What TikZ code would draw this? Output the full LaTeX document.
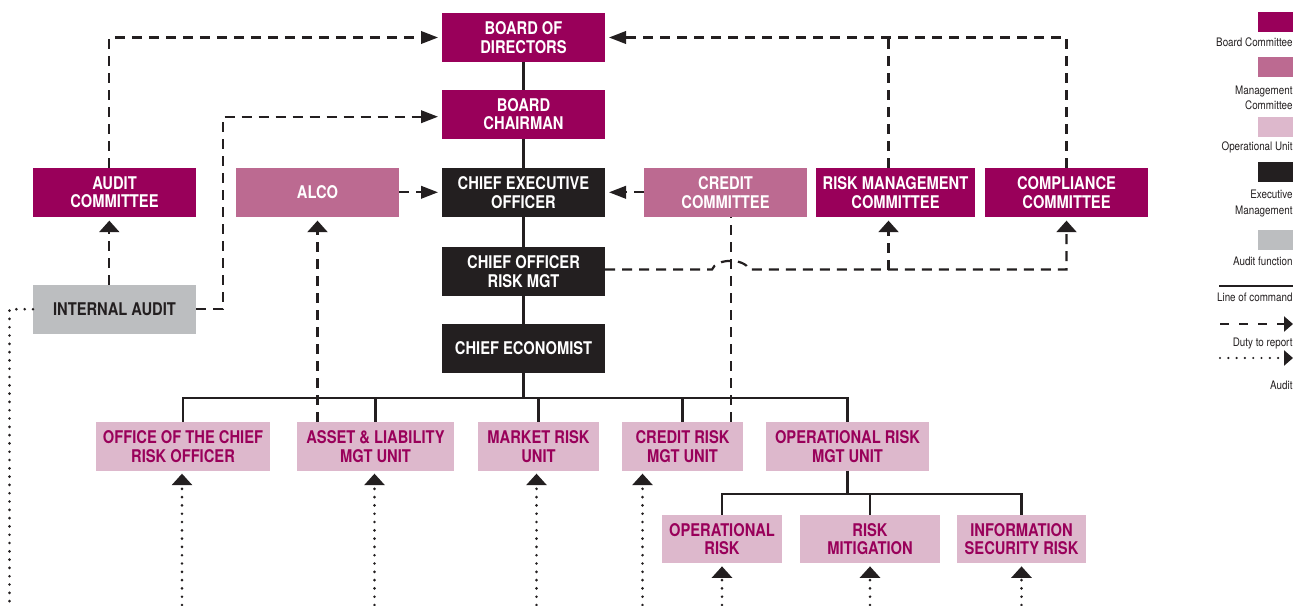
\documentclass[tikz,border=0pt]{standalone}
\usepackage{fontspec}
\setmainfont{TeX Gyre Heros}[FakeStretch=0.84]
\usetikzlibrary{arrows.meta}
\definecolor{board}{HTML}{99005A}
\definecolor{mgmt}{HTML}{BC6A91}
\definecolor{opunit}{HTML}{DDB8CC}
\definecolor{execc}{HTML}{231F20}
\definecolor{auditc}{HTML}{BCBEC0}
\definecolor{ink}{HTML}{231F20}
\tikzset{
 box/.style={inner sep=0pt, outer sep=0pt, minimum height=48.7pt, align=center, font=\fontsize{17.5}{18.7}\selectfont\bfseries},
 boardbox/.style={box, fill=board, text=white},
 mgmtbox/.style={box, fill=mgmt, text=white},
 opbox/.style={box, fill=opunit, text=board},
 execbox/.style={box, fill=execc, text=white},
 auditbox/.style={box, fill=auditc, text=ink},
 cmd/.style={draw=ink, line width=2.2pt},
 duty/.style={draw=ink, line width=2.2pt, dash pattern=on 10pt off 7pt},
 auditln/.style={draw=ink, line width=2.9pt, line cap=round, dash pattern=on 0pt off 8.3pt},
 harr/.style={-{Triangle[length=17pt,width=12.5pt]}, shorten >=4pt},
 varr/.style={-{Triangle[length=11.5pt,width=20pt]}, shorten >=4pt},
 darr/.style={-{Triangle[length=11.5pt,width=20pt]}, shorten >=3pt},
 legarr/.style={-{Triangle[length=9pt,width=15pt]}},
 legtxt/.style={font=\fontsize{11.7}{15.5}\selectfont, text=ink, inner sep=0pt, anchor=east, align=right},
}
\begin{document}
\begin{tikzpicture}[x=1pt,y=-1pt]
\useasboundingbox (0,0) rectangle (1308,605);
\fill[white] (0,0) rectangle (1308,605);

% central column
\node[boardbox, minimum width=163pt] (bod) at (523.5,37.5) {BOARD OF\\DIRECTORS};
\node[boardbox, minimum width=163pt] (chair) at (523.5,114.2) {BOARD\\CHAIRMAN};
\node[execbox, minimum width=163pt] (ceo) at (523.5,192.3) {CHIEF EXECUTIVE\\OFFICER};
\node[execbox, minimum width=163pt] (corm) at (523.5,271.5) {CHIEF OFFICER\\RISK MGT};
\node[execbox, minimum width=163pt] (ce) at (523.5,348.3) {CHIEF ECONOMIST};

% committees row
\node[boardbox, minimum width=163pt] (audc) at (114.5,192.3) {AUDIT\\COMMITTEE};
\node[mgmtbox, minimum width=163pt] (alco) at (317.5,192.3) {ALCO};
\node[auditbox, minimum width=163pt] (ia) at (114.5,309.2) {INTERNAL AUDIT};
\node[mgmtbox, minimum width=163pt] (credc) at (725.5,192.3) {CREDIT\\COMMITTEE};
\node[boardbox, minimum width=159pt] (rmc) at (895.5,192.3) {RISK MANAGEMENT\\COMMITTEE};
\node[boardbox, minimum width=163pt] (compc) at (1066.5,192.3) {COMPLIANCE\\COMMITTEE};

% units row
\node[opbox, minimum width=174pt] (ocro) at (183,446.3) {OFFICE OF THE CHIEF\\RISK OFFICER};
\node[opbox, minimum width=157pt] (alm) at (375.5,446.3) {ASSET \& LIABILITY\\MGT UNIT};
\node[opbox, minimum width=121pt] (mru) at (538.5,446.3) {MARKET RISK\\UNIT};
\node[opbox, minimum width=121pt] (crmu) at (682.5,446.3) {CREDIT RISK\\MGT UNIT};
\node[opbox, minimum width=163pt] (ormu) at (847.5,446.3) {OPERATIONAL RISK\\MGT UNIT};

% sub units
\node[opbox, minimum width=120pt] (opr) at (722,539) {OPERATIONAL\\RISK};
\node[opbox, minimum width=140pt] (rmit) at (870,539) {RISK\\MITIGATION};
\node[opbox, minimum width=129pt] (isr) at (1021.5,539) {INFORMATION\\SECURITY RISK};

% helper coordinates
\coordinate (bus) at (0,398.3);
\coordinate (bus2) at (0,493.7);
\coordinate (lx) at (109.3,0);
\coordinate (iax) at (222.7,309.2);
\coordinate (crx) at (731,0);
\coordinate (hx) at (888.5,269.5);
\coordinate (hop1) at (712,269.5);
\coordinate (hop2) at (749,269.5);
\coordinate (dl) at (9.5,309.2);
\coordinate (dlb) at (9.5,605);
\coordinate (bot) at (0,605);
\coordinate (a1) at (182,0);
\coordinate (a2) at (374.5,0);
\coordinate (a3) at (536.5,0);
\coordinate (a4) at (642.5,0);

% line of command
\draw[cmd] (bod.south) -- (chair.north);
\draw[cmd] (chair.south) -- (ceo.north);
\draw[cmd] (ceo.south) -- (corm.north);
\draw[cmd] (corm.south) -- (ce.north);
\draw[cmd] (ce.south) -- (ce.south |- bus);
\draw[cmd] (ocro.north) -- (ocro.north |- bus) -| (ormu.north);
\draw[cmd] (alm.north) -- (alm.north |- bus);
\draw[cmd] (mru.north) -- (mru.north |- bus);
\draw[cmd] (crmu.north) -- (crmu.north |- bus);
\draw[cmd] (ormu.south) -- (ormu.south |- bus2);
\draw[cmd] (opr.north) -- (opr.north |- bus2) -| (isr.north);
\draw[cmd] (rmit.north) -- (rmit.north |- bus2);

% duty to report
\draw[duty,harr] (audc.north -| lx) |- (bod.west);
\draw[duty,varr] (ia.north -| lx) -- (audc.south -| lx);
\draw[duty,harr] (ia.east) -- (iax) |- ([yshift=-2.5pt]chair.west);
\draw[duty,harr] (alco.east) -- (ceo.west);
\draw[duty,harr] (credc.west) -- (ceo.east);
\draw[duty,varr] (alm.north -| alco.south) -- (alco.south);
\draw[duty] (crmu.north -| crx) -- (credc.south -| crx);
\draw[duty,varr] (corm.east |- hx) -- (hop1) .. controls (716,258) and (745,258) .. (hop2) -| (compc.south);
\draw[duty,varr] (hx) -- (rmc.south -| hx);
\draw[duty,harr] (compc.north) |- (bod.east);
\draw[duty] (rmc.north -| hx) -- (hx |- bod.east);

% audit
\draw[auditln] (ia.west) -- (dl) -- (dlb);
\draw[auditln,darr] (a1 |- bot) -- (ocro.south -| a1);
\draw[auditln,darr] (a2 |- bot) -- (alm.south -| a2);
\draw[auditln,darr] (a3 |- bot) -- (mru.south -| a3);
\draw[auditln,darr] (a4 |- bot) -- (crmu.south -| a4);
\draw[auditln,darr] (opr.south |- bot) -- (opr.south);
\draw[auditln,darr] (rmit.south |- bot) -- (rmit.south);
\draw[auditln,darr] (isr.south |- bot) -- (isr.south);

% legend
\fill[board] (1258.3,12.3) rectangle (1292.7,32.3);
\node[legtxt] (lg1) at (1292.7,42.3) {Board Committee};
\fill[mgmt] (1258.3,57.3) rectangle (1292.7,77.3);
\node[legtxt] (lg2) at (1292.7,98) {Management\\Committee};
\fill[opunit] (1258.3,117.3) rectangle (1292.7,136.7);
\node[legtxt] (lg3) at (1292.7,147.7) {Operational Unit};
\fill[execc] (1258.3,162.3) rectangle (1292.7,181.7);
\node[legtxt] (lg4) at (1292.7,203.5) {Executive\\Management};
\fill[auditc] (1258.3,230) rectangle (1292.7,250);
\node[legtxt] (lg5) at (1292.7,261) {Audit function};
\draw[cmd, line width=2pt] (1219.3,286) -- (1292.7,286);
\node[legtxt] (lg6) at (1292.7,297) {Line of command};
\draw[ink, line width=2.2pt, dash pattern=on 9pt off 10pt, legarr] (1220,324) -- (1293,324);
\node[legtxt] (lg7) at (1292.7,343.5) {Duty to report};
\draw[auditln, line width=2.4pt, legarr] (1220,358) -- (1293,358);
\node[legtxt] (lg8) at (1292.7,385) {Audit};
\end{tikzpicture}
\end{document}
